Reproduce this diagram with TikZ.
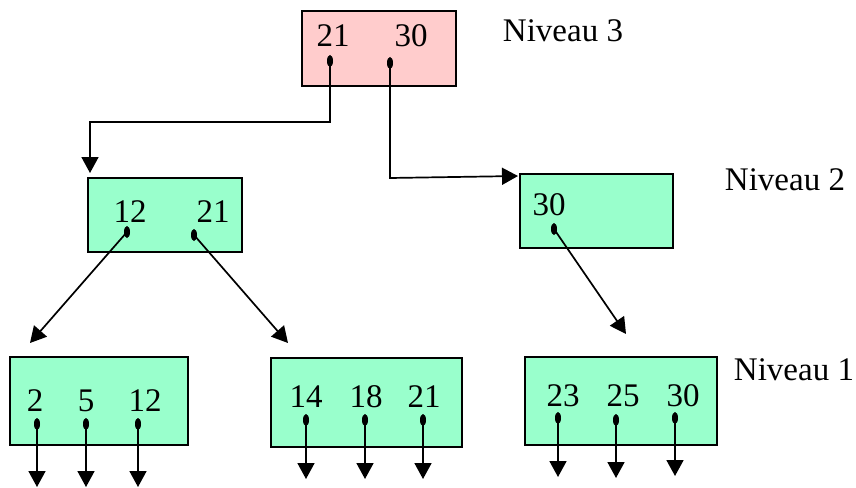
\documentclass[tikz,border=0pt]{standalone}
\usepackage{fontspec}
\setmainfont{Liberation Serif}
\usetikzlibrary{arrows.meta,shapes.geometric}
\definecolor{rootfill}{HTML}{FFCCCC}
\definecolor{nodefill}{HTML}{99FFCC}
\begin{document}
\begin{tikzpicture}[x=1pt,y=-1pt,
  keybox/.style={draw=black,line width=1.8pt,fill=nodefill},
  rootbox/.style={draw=black,line width=1.8pt,fill=rootfill},
  key/.style={inner sep=0pt,font=\fontsize{33}{40}\selectfont},
  lvl/.style={inner sep=0pt,font=\fontsize{33}{40}\selectfont},
  ptr/.style={ellipse,fill=black,minimum width=6pt,minimum height=12pt,inner sep=0pt},
  link/.style={line width=1.7pt,-{Triangle[length=16pt,width=17pt]}}]
\useasboundingbox (0,0) rectangle (856,487);

% boxes
\draw[rootbox] (302,11) rectangle (456,86);
\draw[keybox] (88,178) rectangle (242,252);
\draw[keybox] (520,174) rectangle (673,248);
\draw[keybox] (10,357) rectangle (188,445);
\draw[keybox] (271,358) rectangle (462,447);
\draw[keybox] (525,357) rectangle (717,445);

% keys
\node[key] (r1) at (333,36) {21};
\node[key] (r2) at (411,36) {30};
\node[key] (a1) at (130,212) {12};
\node[key] (a2) at (213,212) {21};
\node[key] (b1) at (549,205) {30};
\node[key] (l1) at (35,401) {2};
\node[key] (l2) at (86,401) {5};
\node[key] (l3) at (145,401) {12};
\node[key] (m1) at (306,397) {14};
\node[key] (m2) at (366,397) {18};
\node[key] (m3) at (424,397) {21};
\node[key] (n1) at (563,396) {23};
\node[key] (n2) at (623,396) {25};
\node[key] (n3) at (683,396) {30};

% level labels
\node[lvl] (lv3) at (563,31) {Niveau 3};
\node[lvl] (lv2) at (785,180) {Niveau 2};
\node[lvl] (lv1) at (794,370) {Niveau 1};

% pointer dots
\node[ptr] (pr1) at (330,61) {};
\node[ptr] (pr2) at (390,63) {};
\node[ptr] (pa1) at (127,232) {};
\node[ptr] (pa2) at (194,235) {};
\node[ptr] (pb1) at (554,229) {};
\node[ptr] (pl1) at (37,424) {};
\node[ptr] (pl2) at (86,424) {};
\node[ptr] (pl3) at (138,424) {};
\node[ptr] (pm1) at (306,420) {};
\node[ptr] (pm2) at (365,420) {};
\node[ptr] (pm3) at (423,420) {};
\node[ptr] (pn1) at (558,418) {};
\node[ptr] (pn2) at (616,420) {};
\node[ptr] (pn3) at (675,418) {};

% arrow targets
\coordinate (tA) at (90,173);
\coordinate (tB) at (518,176);
\coordinate (tL) at (30,343);
\coordinate (tM) at (288,343);
\coordinate (tN) at (626,334);
\coordinate (ol1) at (37,487);
\coordinate (ol2) at (86,487);
\coordinate (ol3) at (138,487);
\coordinate (om1) at (306,479);
\coordinate (om2) at (365,479);
\coordinate (om3) at (423,479);
\coordinate (on1) at (558,477);
\coordinate (on2) at (616,478);
\coordinate (on3) at (675,476);

% connectors
\draw[link] (pr1.center) -- ++(0,61) -| (tA);
\draw[link] (pr2.center) -- ++(0,115) -- (tB);
\draw[link] (pa1.center) -- (tL);
\draw[link] (pa2.center) -- (tM);
\draw[link] (pb1.center) -- (tN);
\foreach \p/\q in {pl1/ol1,pl2/ol2,pl3/ol3,pm1/om1,pm2/om2,pm3/om3,pn1/on1,pn2/on2,pn3/on3}
  \draw[link] (\p.center) -- (\q);
\end{tikzpicture}
\end{document}
